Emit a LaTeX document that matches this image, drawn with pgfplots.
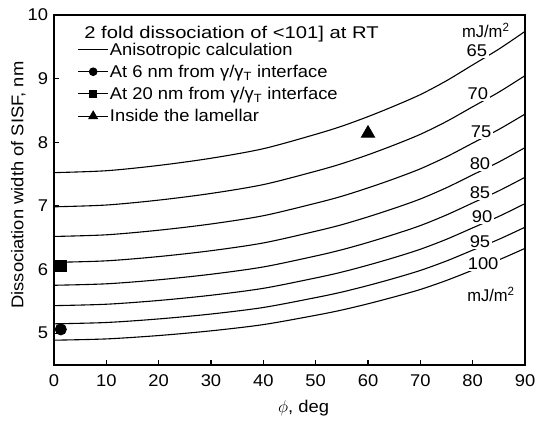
\documentclass[border=0pt]{standalone}
\usepackage{pgfplots}
\pgfplotsset{compat=1.18}
\usepackage{graphicx}
\usepackage{fontspec}
\setmainfont{Liberation Sans}[FakeStretch=1.08]
\pgfplotsset{
 curve/.style={black, no markers, line width=1.1bp, smooth, forget plot},
}
\begin{document}
\fontsize{17bp}{20bp}\selectfont
\begin{tikzpicture}
\begin{axis}[
  scale only axis, width=471bp, height=350bp,
  xmin=0, xmax=90, ymin=4.5, ymax=10,
  xtick={0,10,...,90}, ytick={5,6,7,8,9,10},
  xtick pos=bottom, ytick pos=left,
  tick align=inside, major tick length=5bp,
  axis line style={line width=1.4bp},
  tick style={line width=1.2bp, black},
  /pgf/number format/assume math mode=true,
  xticklabel style={yshift=-4bp},
  xlabel={$\phi$, deg},
  ylabel={Dissociation width of SISF, nm},
  xlabel style={at={(axis description cs:0.53,-0.123)}, anchor=center},
  ylabel style={at={(axis description cs:-0.076,0.514)}, anchor=center},
  legend style={draw=none, fill=none, inner sep=0pt, at={(axis description cs:0.05,0.9296)}, anchor=north west,
    nodes={inner sep=1.35bp}, row sep=3bp},
  legend cell align=left,
  legend image post style={xscale=1.75},
]
\addplot[black, line width=1.1bp, smooth] coordinates {
 (0,7.523) (10,7.553) (20,7.636) (30,7.749) (40,7.899) (50,8.125) (55,8.253) (60,8.403) (65,8.569) (70,8.749) (75,8.967) (80,9.216) (85,9.464) (90,9.742)};
\addlegendentry{\strut Anisotropic calculation}
\addplot[black, line width=1bp, mark=*, mark size=5.5bp, legend image post style={mark size=3.8bp, mark options={xscale=0.5714}}] coordinates {(1.3,5.06)};
\addlegendentry{\strut At 6 nm from γ/γ\textsubscript{T} interface}
\addplot[black, line width=1bp, mark=square*, mark size=5.5bp, legend image post style={mark size=3.8bp, mark options={xscale=0.5714}}] coordinates {(1.3,6.06)};
\addlegendentry{\strut At 20 nm from γ/γ\textsubscript{T} interface}
\addplot[black, line width=1bp, mark=triangle*, mark size=7.5bp, legend image post style={mark size=5bp, mark options={xscale=0.5714}}] coordinates {(60.0,8.14)};
\addlegendentry{\strut Inside the lamellar}
\addplot[curve] coordinates {
 (0,6.986) (10,7.014) (20,7.091) (30,7.196) (40,7.335) (50,7.545) (55,7.664) (60,7.803) (65,7.957) (70,8.125) (75,8.327) (80,8.558) (85,8.788) (90,9.047)};
\addplot[curve] coordinates {
 (0,6.520) (10,6.546) (20,6.618) (30,6.716) (40,6.846) (50,7.042) (55,7.152) (60,7.283) (65,7.426) (70,7.583) (75,7.772) (80,7.987) (85,8.202) (90,8.443)};
\addplot[curve] coordinates {
 (0,6.113) (10,6.137) (20,6.204) (30,6.296) (40,6.418) (50,6.602) (55,6.705) (60,6.828) (65,6.962) (70,7.109) (75,7.286) (80,7.488) (85,7.690) (90,7.916)};
\addplot[curve] coordinates {
 (0,5.753) (10,5.776) (20,5.839) (30,5.926) (40,6.041) (50,6.213) (55,6.311) (60,6.426) (65,6.553) (70,6.691) (75,6.858) (80,7.047) (85,7.237) (90,7.450)};
\addplot[curve] coordinates {
 (0,5.433) (10,5.455) (20,5.514) (30,5.596) (40,5.705) (50,5.868) (55,5.960) (60,6.069) (65,6.188) (70,6.319) (75,6.476) (80,6.655) (85,6.835) (90,7.036)};
\addplot[curve] coordinates {
 (0,5.147) (10,5.168) (20,5.224) (30,5.301) (40,5.404) (50,5.559) (55,5.646) (60,5.749) (65,5.862) (70,5.986) (75,6.135) (80,6.305) (85,6.475) (90,6.665)};
\addplot[curve] coordinates {
 (0,4.890) (10,4.910) (20,4.963) (30,5.037) (40,5.135) (50,5.281) (55,5.364) (60,5.462) (65,5.570) (70,5.687) (75,5.829) (80,5.990) (85,6.152) (90,6.333)};
\node[anchor=base west] at (axis description cs:0.052,0.934) {\scalebox{1.1}[1]{2 fold dissociation of <101] at RT}};
\begin{scope}[every node/.style={fill=white, inner sep=1.5bp}]
\node at (axis cs:80.8,9.44) {65};
\node at (axis cs:81.0,8.77) {70};
\node at (axis cs:81.6,8.17) {75};
\node at (axis cs:81.4,7.67) {80};
\node at (axis cs:81.4,7.21) {85};
\node at (axis cs:81.8,6.83) {90};
\node at (axis cs:81.4,6.44) {95};
\node at (axis cs:82.0,6.09) {100};
\end{scope}
\node at (axis cs:82.5,9.76) {\scalebox{0.9}[1]{mJ/m\textsuperscript{2}}};
\node at (axis cs:83.5,5.61) {\scalebox{0.9}[1]{mJ/m\textsuperscript{2}}};
\end{axis}
\pgfresetboundingbox
\path ([shift={(-54bp,-56bp)}]current axis.south west) rectangle ([shift={(11bp,15bp)}]current axis.north east);
\end{tikzpicture}
\end{document}
